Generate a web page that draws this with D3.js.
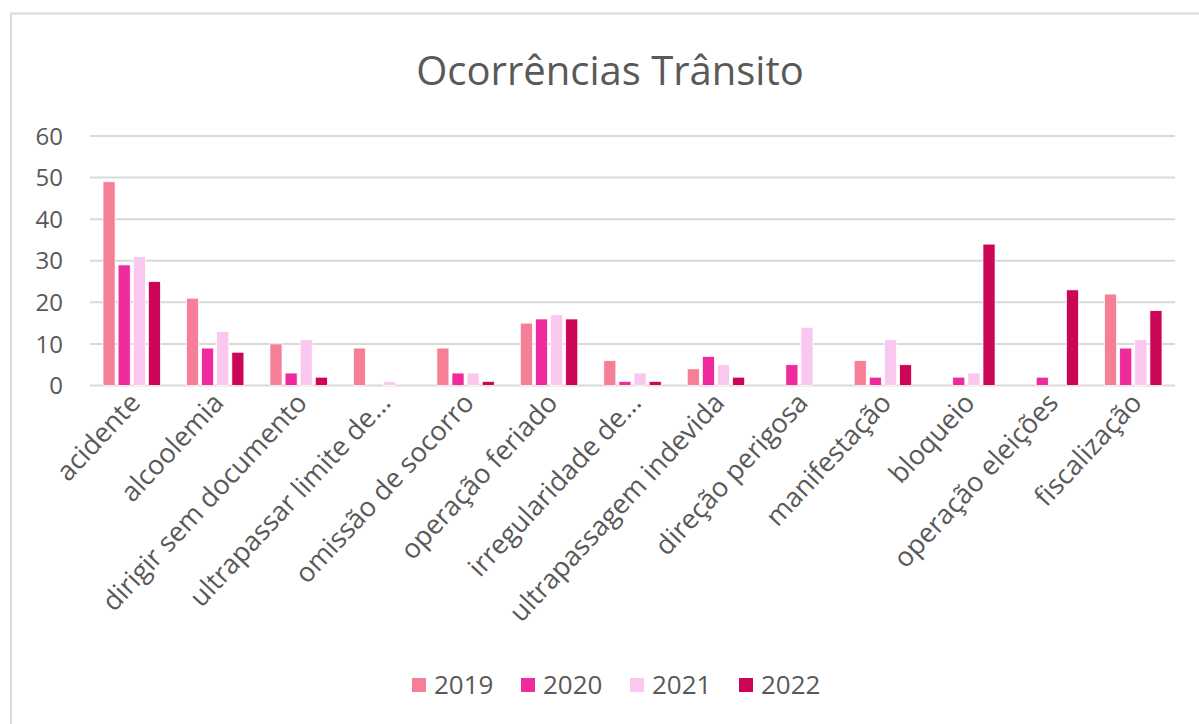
<!DOCTYPE html>
<html>
<head>
<meta charset="utf-8">
<script src="https://cdnjs.cloudflare.com/ajax/libs/d3/7.8.5/d3.min.js"></script>
<style>
    body { margin: 0; background: #fff; }
    text { font-family: "Open Sans", sans-serif; fill: #595959; }
</style>
</head>
<body>
<div id="chart"></div>
<script>
var categories = ["acidente", "alcoolemia", "dirigir sem documento", "ultrapassar limite de...",
    "omissão de socorro", "operação feriado", "irregularidade de...", "ultrapassagem indevida",
    "direção perigosa", "manifestação", "bloqueio", "operação eleições", "fiscalização"];
var years = ["2019", "2020", "2021", "2022"];
var values2019 = [49, 21, 10, 9, 9, 15, 6, 4, 0, 6, 0, 0, 22];
var values2020 = [29, 9, 3, 0, 3, 16, 1, 7, 5, 2, 2, 2, 9];
var values2021 = [31, 13, 11, 1, 3, 17, 3, 5, 14, 11, 3, 0, 11];
var values2022 = [25, 8, 2, 0, 1, 16, 1, 2, 0, 5, 34, 23, 18];
var yTicks = [0, 10, 20, 30, 40, 50, 60];
var colors = ["#F67F98", "#EE2A9D", "#FAC8EE", "#CC0656"];

var series = [values2019, values2020, values2021, values2022];

var W = 1199, H = 724;
var plot = {left: 90, right: 1175, top: 136, bottom: 385.5};

var svg = d3.select("#chart").append("svg")
    .attr("width", W)
    .attr("height", H);

// chart frame (only top and left edges visible)
svg.append("rect")
    .attr("x", 11)
    .attr("y", 13.5)
    .attr("width", W + 20)
    .attr("height", H + 20)
    .attr("fill", "#fff")
    .attr("stroke", "#D9D9D9")
    .attr("stroke-width", 2);

svg.append("text")
    .attr("x", 610)
    .attr("y", 85)
    .attr("text-anchor", "middle")
    .style("font-size", "40px")
    .text("Ocorrências Trânsito");

var x = d3.scaleBand()
    .domain(categories)
    .range([plot.left, plot.right])
    .padding(0);

var inner = d3.scaleBand()
    .domain(years)
    .range([13, x.bandwidth() - 13])
    .paddingInner(0.2);

var y = d3.scaleLinear()
    .domain([0, 60])
    .range([plot.bottom, plot.top]);

// gridlines
svg.append("g").selectAll("line")
    .data(yTicks)
    .enter().append("line")
    .attr("x1", plot.left)
    .attr("x2", plot.right)
    .attr("y1", function (d) { return y(d); })
    .attr("y2", function (d) { return y(d); })
    .attr("stroke", "#D9D9D9")
    .attr("stroke-width", 2);

svg.append("g").selectAll("text")
    .data(yTicks)
    .enter().append("text")
    .attr("x", 63)
    .attr("y", function (d) { return y(d); })
    .attr("dy", "0.36em")
    .attr("text-anchor", "end")
    .style("font-size", "24px")
    .text(function (d) { return d; });

// bars
var groups = svg.append("g").selectAll("g")
    .data(categories)
    .enter().append("g")
    .attr("transform", function (d) { return "translate(" + x(d) + ",0)"; });

groups.selectAll("rect")
    .data(function (d, i) {
        return years.map(function (yr, j) {
            return {year: yr, value: series[j][i], idx: j};
        });
    })
    .enter().append("rect")
    .filter(function (d) { return d.value > 0; })
    .attr("x", function (d) { return inner(d.year); })
    .attr("y", function (d) { return y(d.value); })
    .attr("width", inner.bandwidth())
    .attr("height", function (d) { return y(0) - y(d.value); })
    .attr("fill", function (d) { return colors[d.idx]; })
    .attr("stroke", "#fff")
    .attr("stroke-width", 0.75);

// category labels, rotated
svg.append("g").selectAll("text")
    .data(categories)
    .enter().append("text")
    .attr("text-anchor", "end")
    .attr("transform", function (d) {
        var cx = x(d) + x.bandwidth() / 2 + 10;
        return "translate(" + cx + ",404) rotate(-47)";
    })
    .style("font-size", "27px")
    .text(function (d) { return d; });

// legend
var legend = svg.append("g").attr("transform", "translate(412,0)");
var item = legend.selectAll("g")
    .data(years)
    .enter().append("g")
    .attr("transform", function (d, i) { return "translate(" + (i * 109) + ",0)"; });

item.append("rect")
    .attr("x", 0)
    .attr("y", 678)
    .attr("width", 14)
    .attr("height", 14)
    .attr("fill", function (d, i) { return colors[i]; });

item.append("text")
    .attr("x", 22)
    .attr("y", 694)
    .style("font-size", "26px")
    .text(function (d) { return d; });
</script>
</body>
</html>
